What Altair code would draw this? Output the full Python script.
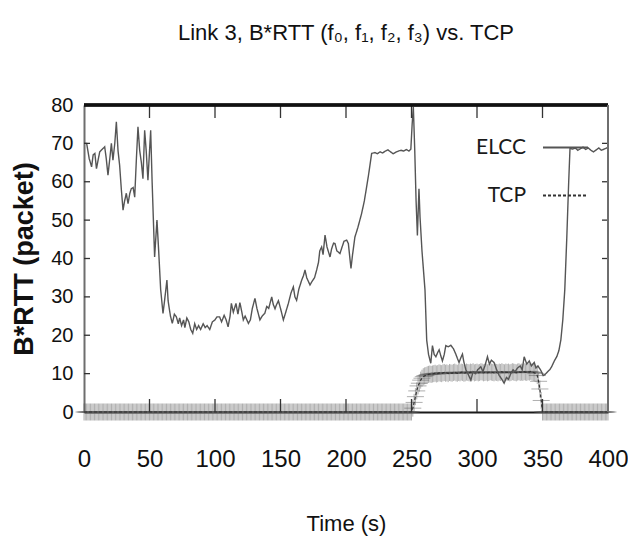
import altair as alt
import pandas as pd

# ---------------- data ----------------
elcc_t = [0, 2, 4, 5.8, 7, 8.3, 9.5, 12, 14, 15.8, 17, 18.3, 20, 20.9, 22.1, 23.5, 24.7, 26, 27.2, 28.5,
          29.8, 31, 32.3, 33.6, 35, 36.1, 37.5, 38.7, 40, 41.2, 42.5, 43.8, 45, 46.3, 47.5, 48.8, 50.9, 52,
          53.9, 55.7, 57, 58.5, 60.3, 61.5, 63.3, 64.2, 64.9, 66, 67.4, 69, 70.5, 72, 73, 74.5, 76, 77, 78.5,
          80, 81.5, 83, 84.5, 86, 87.5, 89, 91, 92.5, 94, 96, 98, 100, 101.5, 103.5, 105, 107, 108.5, 110,
          111.5, 112.5, 114, 116, 117.5, 119, 120.5, 121.6, 123, 125.5, 127, 128.5, 130.5, 132, 134.3, 136,
          138, 139.5, 141, 143.3, 144.5, 145.8, 147, 148.4, 150, 152.2, 154, 156, 158, 159.8, 161, 162.3,
          164, 166.2, 167.5, 168.7, 170, 172.5, 174, 176, 177.6, 179, 180, 181.4, 182.5, 184, 185.5, 187.8,
          189, 190.5, 191.6, 193, 195.4, 197, 198.5, 200.5, 201.8, 203.8, 205, 206.8, 209, 211.9, 214, 217,
          219.6, 222, 224, 226, 228, 230, 232, 234, 236, 238, 240, 242, 244, 246, 248, 249.5, 250.5, 251.4,
          252.5, 253.5, 254.5, 255.7, 256.5, 258, 260.3, 261.6, 263, 264.7, 266, 267.3, 268.6, 270, 271.1,
          272.5, 273.6, 275, 276.2, 278, 280, 282, 283.8, 285, 286.3, 287.5, 288.9, 290, 291.5, 293, 295.3,
          297, 299, 300.5, 302.9, 304.5, 306, 308, 309.5, 311, 313, 315, 317, 319, 320.7, 322.5, 324, 325.8,
          327.5, 329, 331, 333, 334.5, 336, 338, 339.9, 341.5, 343.7, 345, 346.5, 348.8, 350.5, 352, 353.9,
          355.5, 357, 359, 361, 362.5, 364, 365.5, 367, 368.5, 370, 371, 373, 375, 377, 379, 381, 383, 385,
          387, 389, 391, 393, 395, 397, 399, 400]
elcc_v = [70, 70, 66, 63.9, 67, 67.4, 63.4, 67.8, 68.5, 69.1, 66, 61.7, 67, 70, 65.6, 70, 75.6, 68, 64.3, 58,
          52.6, 55, 57, 54.3, 57, 58.2, 58.5, 56, 66, 74.3, 68.2, 65, 60.8, 73.4, 68, 60.4, 73.4, 60,
          40.4, 50, 42, 32, 25.7, 29, 34.4, 29, 27.4, 25, 23.1, 25.5, 24.8, 23, 24.5, 22.5, 24, 22, 24.5,
          23.5, 21.5, 20.5, 23, 21.5, 22.5, 21.5, 23, 22, 22.5, 21.5, 23.5, 24, 24.8, 24.8, 23.5, 25.2, 24, 22.2,
          25, 28.3, 26, 28.3, 25.5, 28.5, 26, 24, 25, 23.1, 24, 27, 29.6, 27, 24, 25,
          25.7, 27.5, 27, 30, 28, 26.9, 28, 29, 27, 24, 26, 28.3, 31, 32.6, 30, 29.1,
          32, 34.4, 35.5, 37, 35, 33.1, 34, 35, 37, 39, 42, 43, 41, 46.1, 43, 40.4,
          42.5, 44, 43.9, 42, 41.3, 43, 44.5, 44.8, 43.9, 37.4, 41, 45.6, 48, 51.7, 55, 61.3,
          67.4, 67.6, 67.3, 67.8, 67.5, 68, 68.3, 67.8, 67.3, 67.7, 68, 68.2, 68, 68.4, 68, 68.5, 75, 79.5,
          68, 55, 46, 58.2, 50.9, 42, 31.8, 18.75, 15, 12.7, 17.3, 15, 14.4, 15.5, 16.2,
          14.5, 13.3, 15, 17.3, 17, 17.4, 16.5, 15.1, 14, 12.9, 14, 15.1, 13, 11, 10, 8.3,
          10.5, 10, 11, 11.8, 10.5, 12, 14.4, 12.5, 13.5, 12.9, 11, 9.5, 8.5, 7.5, 9, 8.5, 10,
          11, 10.5, 11.5, 12, 11, 14.4, 12.5, 13.3, 12, 12.9, 11.5, 12, 10.8, 9.5, 9.8, 10.5,
          11, 11.8, 13.3, 14.5, 16, 18.75, 24, 31.8, 45, 60, 68.7, 68.5, 68.8, 68.2, 68.6, 69, 68.4, 68.8,
          68.2, 67.8, 68.3, 68.8, 68.2, 68.5, 68.8, 69]

# TCP sampled every second, 0..400 s: zero until 249 s, ~10 packets 250..350 s, zero after
tcp_t = list(range(0, 401))
tcp_rise = [0, 1.0, 2.5, 4.0, 5.5, 6.8, 7.5, 8.3, 8.8, 9.2, 9.4, 9.5, 9.7, 9.8, 9.9, 9.8]
tcp_plateau = [9.9, 10.0, 10.1, 9.9, 10.0, 10.2, 10.1, 10.0, 10.2, 10.3,
               10.1, 10.2, 10.0, 10.3, 10.2, 10.1, 10.3, 10.4, 10.2, 10.1,
               10.3, 10.2, 10.4, 10.3, 10.1, 10.2, 10.4, 10.3, 10.2, 10.4,
               10.3, 10.5, 10.2, 10.3, 10.4, 10.2, 10.3, 10.5, 10.4, 10.2,
               10.3, 10.4, 10.2, 10.3, 10.5, 10.4, 10.3, 10.2, 10.4, 10.3,
               10.2, 10.4, 10.3, 10.5, 10.3, 10.2, 10.4, 10.3, 10.4, 10.2,
               10.3, 10.5, 10.4, 10.3, 10.2, 10.4, 10.5, 10.3, 10.4, 10.3,
               10.5, 10.4, 10.3, 10.5, 10.4, 10.6, 10.4, 10.3, 10.2, 10.0]
tcp_fall = [9.5, 8.0, 6.0, 3.0, 0]
tcp_v = [0.0] * 250 + tcp_rise + tcp_plateau + tcp_fall + [0.0] * 50

series_names = ["ELCC", "TCP"]
x_label_values = [0, 50, 100, 150, 200, 250, 300, 350, 400]
y_label_values = [0, 10, 20, 30, 40, 50, 60, 70, 80]
x_inner_ticks = [50, 100, 150, 200, 250, 300, 350]
y_inner_ticks = [10, 20, 30, 40, 50, 60, 70]
x_max, y_max = 400, 80

# ---------------- chart ----------------
W, H = 524, 307
NARROW = "Liberation Sans Narrow, Arial Narrow, Liberation Sans, sans-serif"

df_e = pd.DataFrame({"t": elcc_t, "v": elcc_v, "series": "ELCC"})
df_c = pd.DataFrame({"t": tcp_t, "v": tcp_v, "series": "TCP"})
df_xt = pd.DataFrame({"t": x_inner_ticks})
df_yt = pd.DataFrame({"v": y_inner_ticks})

xs = alt.Scale(domain=[0, x_max], nice=False, zero=False)
ys = alt.Scale(domain=[0, y_max], nice=False)

x_axis = alt.Axis(values=x_label_values, title="Time (s)", domain=True, domainColor="#1a1a1a",
                  domainWidth=2, ticks=False, grid=False, labelFlush=False, labelOverlap=False,
                  labelFont=NARROW, labelFontSize=24, labelColor="#111", labelPadding=35,
                  titleFont=NARROW, titleFontSize=22, titleFontWeight="normal", titleColor="#111",
                  titlePadding=42)
y_axis = alt.Axis(values=y_label_values, title="B*RTT (packet)", domain=True, domainColor="#6e6e6e",
                  domainWidth=2, ticks=False, grid=False, labelFlush=False, labelOverlap=False,
                  labelFont=NARROW, labelFontSize=20, labelColor="#111", labelPadding=11,
                  titleFont="Liberation Sans, sans-serif", titleFontSize=27, titleFontWeight="bold",
                  titleColor="#111", titlePadding=12)

legend = alt.Legend(title=None, orient="none", legendX=458, legendY=19, direction="vertical",
                    symbolType="stroke", symbolSize=2025, symbolStrokeWidth=2, symbolOffset=0,
                    labelAlign="right", labelOffset={"expr": "-63"}, labelFont="Lato, sans-serif",
                    labelFontSize=21, labelColor="#1a1a1a", rowPadding=14, padding=0)

color = alt.Color("series:N", scale=alt.Scale(domain=series_names, range=["#555555", "#333333"]),
                  legend=legend)
dash = alt.StrokeDash("series:N", scale=alt.Scale(domain=series_names, range=[[1, 0], [3, 2]]),
                      legend=legend)

X = alt.X("t:Q", scale=xs, axis=x_axis)
Y = alt.Y("v:Q", scale=ys, axis=y_axis)

tcp_marks = alt.Chart(df_c).mark_point(
    shape="M0,-1L0,1M-1,0L1,0", size=289, filled=False, stroke="#5a5a5a",
    strokeWidth=0.8, opacity=0.6
).encode(x=X, y=Y)

tcp_line = alt.Chart(df_c).mark_line(strokeWidth=1.2).encode(
    x=X, y=Y, color=color, strokeDash=dash)

elcc_line = alt.Chart(df_e).mark_line(strokeWidth=1.4).encode(
    x=X, y=Y, color=color, strokeDash=dash)

# gnuplot-style inward ticks on all four sides
top_ticks = alt.Chart(df_xt).mark_rule(color="#333333", strokeWidth=1.3).encode(
    x=X, y=alt.value(0), y2=alt.value(13))
bottom_ticks = alt.Chart(df_xt).mark_rule(color="#333333", strokeWidth=1.3).encode(
    x=X, y=alt.value(H), y2=alt.value(H - 13))
left_ticks = alt.Chart(df_yt).mark_rule(color="#333333", strokeWidth=1.3).encode(
    y=Y, x=alt.value(0), x2=alt.value(6))
right_ticks = alt.Chart(df_yt).mark_rule(color="#333333", strokeWidth=1.3).encode(
    y=Y, x=alt.value(W), x2=alt.value(W - 6))

# top and right borders of the box (placed through the scales at the axis maxima)
top_border = alt.Chart(df_xt).mark_rule(color="#111111", strokeWidth=2.5).encode(
    y=alt.Y(datum=y_max, type="quantitative", scale=ys, axis=y_axis),
    x=alt.value(0), x2=alt.value(W))
right_border = alt.Chart(df_xt).mark_rule(color="#6e6e6e", strokeWidth=2).encode(
    x=alt.X(datum=x_max, type="quantitative", scale=xs, axis=x_axis),
    y=alt.value(0), y2=alt.value(H))

chart = alt.layer(
    tcp_marks, tcp_line, elcc_line, top_ticks, bottom_ticks, left_ticks, right_ticks,
    top_border, right_border
).properties(
    width=W, height=H,
    autosize=alt.AutoSizeParams(type="none"),
    padding={"left": 76, "top": 97, "right": 20, "bottom": 135},
    background="white",
    title=alt.Title(text="Link 3, B*RTT (f₀, f₁, f₂, f₃) vs. TCP", font=NARROW, fontSize=22,
                    fontWeight="normal", color="#111", anchor="middle", offset=50),
).configure_view(strokeWidth=0)

chart.save("out.html", embed_options={"renderer": "svg", "actions": False})
